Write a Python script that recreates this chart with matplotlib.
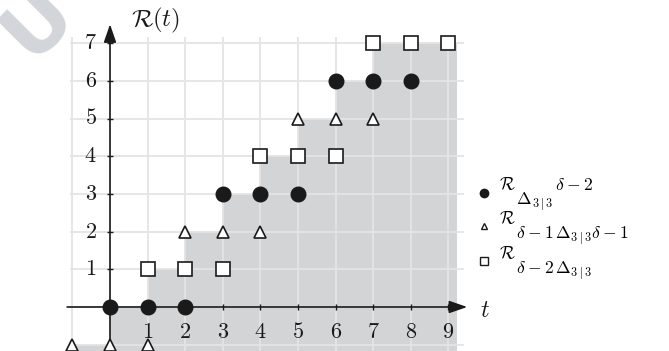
import matplotlib
matplotlib.use('Agg')
import matplotlib.pyplot as plt
from matplotlib.lines import Line2D

plt.rcParams['mathtext.fontset'] = 'cm'
plt.rcParams['font.family'] = ['DejaVu Sans']

# ---- data ----
t_circle = [0, 1, 2, 3, 4, 5, 6, 7, 8]
r_circle = [0, 0, 0, 3, 3, 3, 6, 6, 6]
t_tri = [-1, 0, 1, 2, 3, 4, 5, 6, 7]
r_tri = [-1, -1, -1, 2, 2, 2, 5, 5, 5]
t_sq = [1, 2, 3, 4, 5, 6, 7, 8, 9]
r_sq = [1, 1, 1, 4, 4, 4, 7, 7, 7]
step_t = [-1, 0, 1, 2, 3, 4, 5, 6, 7, 9.22]
step_r = [-1, 0, 1, 2, 3, 4, 5, 6, 7, 7]
x_ticks = [1, 2, 3, 4, 5, 6, 7, 8, 9]
y_ticks = [1, 2, 3, 4, 5, 6, 7]
grid_x = [-1, 0, 1, 2, 3, 4, 5, 6, 7, 8, 9]
grid_y = [-1, 0, 1, 2, 3, 4, 5, 6, 7]
legend_labels = [
    r'$^{\mathcal{R}}{}_{\Delta_{3\mid 3}}{}^{\delta-2}$',
    r'$^{\mathcal{R}}{}_{\delta-1\,\Delta_{3\mid 3}\delta-1}$',
    r'$^{\mathcal{R}}{}_{\delta-2\,\Delta_{3\mid 3}}$',
]

W, H = 669, 351
fig = plt.figure(figsize=(W / 100, H / 100), dpi=100)
ax = fig.add_axes([0, 0, 1, 1])
ax.patch.set_visible(False)
x0px, ux = 110, 37.6
y0px, uy = 307, 37.7
ax.set_xlim(-x0px / ux, (W - x0px) / ux)
ax.set_ylim(-(H - y0px) / uy, y0px / uy)
ax.axis('off')

# watermark
fig.text(0.058, 0.935, 'U', rotation=45, ha='center', va='center',
         fontsize=58, fontweight='bold', color='#d2d5d9', zorder=10)

# staircase fill
ax.fill_between(step_t, step_r, -2, step='post', color='#d3d4d6', lw=0, zorder=1)

# grid
gc = '#e4e4e4'
ax.vlines(grid_x, -1.3, 7.16, color=gc, lw=1.3, zorder=2)
ax.hlines(grid_y, -1.06, 9.42, color=gc, lw=1.3, zorder=2)

# axes with arrows
ac = '#1a1a1a'
ax.annotate('', xy=(9.5, 0), xytext=(-1.14, 0),
            arrowprops=dict(arrowstyle='-|>,head_length=1.1,head_width=0.38',
                            lw=1.2, color=ac, shrinkA=0, shrinkB=0,
                            mutation_scale=10), zorder=3)
ax.annotate('', xy=(0, 7.5), xytext=(0, -1.3),
            arrowprops=dict(arrowstyle='-|>,head_length=1.1,head_width=0.38',
                            lw=1.2, color=ac, shrinkA=0, shrinkB=0,
                            mutation_scale=10), zorder=3)
ax.vlines(x_ticks, -0.08, 0.08, color=ac, lw=1.0, zorder=3)
ax.hlines(y_ticks, -0.08, 0.08, color=ac, lw=1.0, zorder=3)

for v in x_ticks:
    ax.text(v, -0.66, f'${v}$', ha='center', va='center', fontsize=16, color=ac)
for v in y_ticks:
    ax.text(-0.35, v, f'${v}$', ha='right', va='center', fontsize=16, color=ac)

ax.text(9.97, -0.08, r'$t$', ha='center', va='center', fontsize=17, color=ac)
ax.text(0.55, 7.61, r'$\mathcal{R}(t)$', ha='left', va='center', fontsize=18, color=ac)

# data markers
ax.plot(t_circle, r_circle, 'o', ms=10.5, color='#1a1a1a', mec='#1a1a1a', zorder=5)
ax.plot(t_tri, r_tri, '^', ms=9, mfc='white', mec='#1a1a1a', mew=1.2, zorder=5)
ax.plot(t_sq, r_sq, 's', ms=9.5, mfc='white', mec='#1a1a1a', mew=1.2, zorder=5)

handles = [
    Line2D([], [], ls='none', marker='o', ms=6, color='#1a1a1a'),
    Line2D([], [], ls='none', marker='^', ms=5, mfc='white', mec='#1a1a1a', mew=1.0),
    Line2D([], [], ls='none', marker='s', ms=5.5, mfc='white', mec='#1a1a1a', mew=1.0),
]
ax.legend(handles, legend_labels, loc='upper left',
          bbox_to_anchor=(478 / W, 1 - 177 / H), bbox_transform=fig.transFigure,
          frameon=False, handlelength=0.5, handletextpad=0.3, labelspacing=-0.15,
          fontsize=18, borderpad=0, borderaxespad=0)

fig.savefig('out.png', dpi=100)
